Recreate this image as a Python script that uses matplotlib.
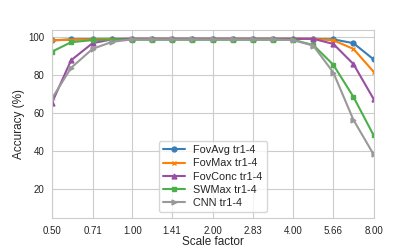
import numpy as np
import matplotlib
matplotlib.use("Agg")
import matplotlib.pyplot as plt
import seaborn as sns

# scale factors: quarter-octave steps from 0.5 to 8
scales = [0.5, 0.59, 0.71, 0.84, 1.0, 1.19, 1.41, 1.68, 2.0,
          2.38, 2.83, 3.36, 4.0, 4.76, 5.66, 6.73, 8.0]
tick_vals = [0.5, 0.71, 1.0, 1.41, 2.0, 2.83, 4.0, 5.66, 8.0]
tick_labels = ["0.50", "0.71", "1.00", "1.41", "2.00", "2.83", "4.00", "5.66", "8.00"]

fov_avg = [98.5, 99.0, 99.2, 99.3, 99.3, 99.3, 99.3, 99.3, 99.3,
           99.3, 99.3, 99.3, 99.3, 99.3, 99.0, 97.0, 88.5]
fov_max = [98.5, 98.8, 99.0, 99.2, 99.3, 99.3, 99.3, 99.3, 99.3,
           99.3, 99.3, 99.3, 99.3, 99.3, 98.5, 94.0, 82.0]
fov_conc = [65.5, 88.0, 97.0, 99.0, 99.3, 99.3, 99.3, 99.3, 99.3,
            99.3, 99.3, 99.3, 99.3, 99.3, 96.6, 86.0, 67.7]
sw_max = [92.5, 97.5, 98.6, 98.9, 98.8, 98.8, 98.8, 98.8, 98.8,
          98.8, 98.8, 98.8, 98.8, 96.0, 85.6, 68.7, 48.6]
cnn = [67.8, 84.0, 94.0, 97.7, 99.0, 99.0, 99.0, 99.0, 99.0,
       99.0, 99.0, 99.0, 98.6, 95.7, 81.5, 56.6, 38.5]

series = [
    ("FovAvg tr1-4", fov_avg, "#377eb8", "o"),
    ("FovMax tr1-4", fov_max, "#ff7f00", "x"),
    ("FovConc tr1-4", fov_conc, "#984ea3", "^"),
    ("SWMax tr1-4", sw_max, "#4daf4a", "s"),
    ("CNN tr1-4", cnn, "#999999", ">"),
]

sns.set_style("whitegrid")
plt.rcParams["font.family"] = ["Arial", "Liberation Sans", "DejaVu Sans"]

fig, ax = plt.subplots(figsize=(4.15, 2.49), dpi=100)
for label, vals, color, marker in series:
    ax.plot(scales, vals, color=color, marker=marker, markersize=3.5,
            linewidth=1.5, label=label)

ax.set_xscale("log", base=2)
ax.set_xticks(tick_vals)
ax.set_xticklabels(tick_labels)
ax.minorticks_off()
ax.set_xlim(0.5, 8.0)
ax.set_ylim(5, 104)
ax.set_yticks([20, 40, 60, 80, 100])
ax.tick_params(labelsize=7, pad=2)
ax.set_xlabel("Scale factor", fontsize=8.5, labelpad=0)
ax.set_ylabel("Accuracy (%)", fontsize=8.5, labelpad=2)
ax.legend(loc="lower center", fontsize=7.8, handlelength=2.0,
          borderpad=0.4, labelspacing=0.3)

fig.subplots_adjust(left=0.125, right=0.9, top=0.88, bottom=0.125)
fig.savefig("out.png", dpi=100)
